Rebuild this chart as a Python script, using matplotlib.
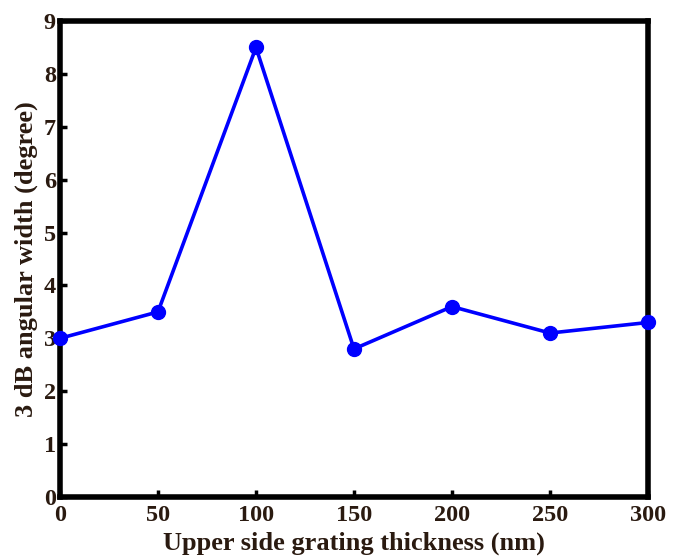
import matplotlib
matplotlib.use("Agg")
import matplotlib.pyplot as plt

thickness = [0, 50, 100, 150, 200, 250, 300]
width_deg = [3.0, 3.5, 8.5, 2.8, 3.6, 3.1, 3.3]
xticks = [0, 50, 100, 150, 200, 250, 300]
yticks = [0, 1, 2, 3, 4, 5, 6, 7, 8, 9]

txt = '#2a1a10'
plt.rcParams['font.family'] = ['Liberation Serif', 'DejaVu Serif']
plt.rcParams['font.weight'] = 'bold'

fig = plt.figure(figsize=(6.83, 5.6), dpi=100)
ax = fig.add_axes([0.0878, 0.1125, 0.861, 0.85])
ax.plot(thickness, width_deg, color='#0000ff', lw=2.6, marker='o', ms=10, clip_on=False, zorder=3)
ax.set_xlim(0, 300)
ax.set_ylim(0, 9)
ax.set_xticks(xticks)
ax.set_yticks(yticks)
for s in ax.spines.values():
    s.set_linewidth(4)
ax.tick_params(direction='in', length=5, width=2.5, labelsize=17.5, colors='black', labelcolor=txt, pad=6)
ax.tick_params(axis='y', pad=3)
for lab in ax.get_xticklabels() + ax.get_yticklabels():
    lab.set_fontweight('bold')
ax.set_xlabel('Upper side grating thickness (nm)', fontsize=19, fontweight='bold', color=txt, labelpad=4)
ax.set_ylabel('3 dB angular width (degree)', fontsize=19, fontweight='bold', color=txt, labelpad=4)
fig.savefig('out.png', dpi=100)
